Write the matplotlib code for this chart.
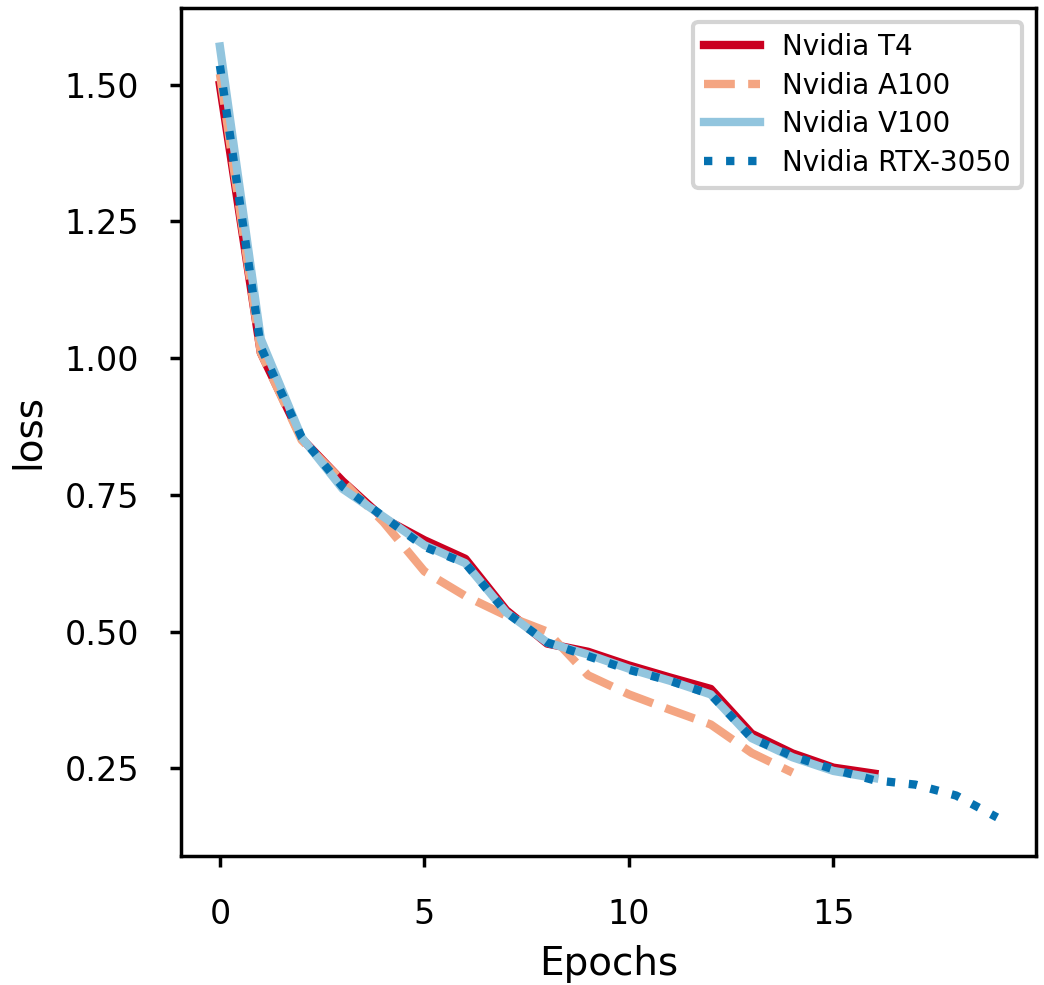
import numpy as np
import matplotlib
matplotlib.use('Agg')
import matplotlib.pyplot as plt

# loss per epoch
t4_loss = [1.50, 1.01, 0.853, 0.775, 0.707, 0.667, 0.633, 0.539, 0.478, 0.463,
           0.438, 0.416, 0.395, 0.313, 0.277, 0.251, 0.240]
a100_loss = [1.52, 1.01, 0.850, 0.775, 0.700, 0.610, 0.565, 0.529, 0.500, 0.420,
             0.385, 0.357, 0.330, 0.278, 0.242]
v100_loss = [1.57, 1.035, 0.855, 0.761, 0.710, 0.658, 0.625, 0.535, 0.480, 0.458,
             0.432, 0.410, 0.385, 0.305, 0.270, 0.245, 0.232]
rtx_loss = [1.535, 1.02, 0.855, 0.765, 0.710, 0.655, 0.625, 0.535, 0.480, 0.455,
            0.430, 0.410, 0.385, 0.305, 0.272, 0.248, 0.228, 0.220, 0.200, 0.160]

series = [
    ('Nvidia T4', t4_loss, '#ca0020', '-'),
    ('Nvidia A100', a100_loss, '#f4a582', '--'),
    ('Nvidia V100', v100_loss, '#92c5de', '-'),
    ('Nvidia RTX-3050', rtx_loss, '#0571b0', ':'),
]

fig, ax = plt.subplots(figsize=(5.22, 4.925), dpi=200)
fig.subplots_adjust(left=0.1734, right=0.9923, top=0.9919, bottom=0.131)

for name, vals, col, ls in series:
    ax.plot(np.arange(len(vals)), vals, color=col, linestyle=ls, linewidth=3, label=name)

ax.set_xlabel('Epochs', fontsize=14, labelpad=5)
ax.set_ylabel('loss', fontsize=14, labelpad=6.5)
ax.set_xticks([0, 5, 10, 15])
ax.set_yticks([0.25, 0.50, 0.75, 1.00, 1.25, 1.50])
ax.tick_params(labelsize=12, width=1.25, length=4, pad=11)
for s in ax.spines.values():
    s.set_linewidth(1.25)

leg = ax.legend(loc='upper right', fontsize=10, framealpha=1, labelspacing=0.38)
leg.get_frame().set_edgecolor('0.83')
leg.get_frame().set_linewidth(1.5)

plt.savefig('out.png', dpi=200)
